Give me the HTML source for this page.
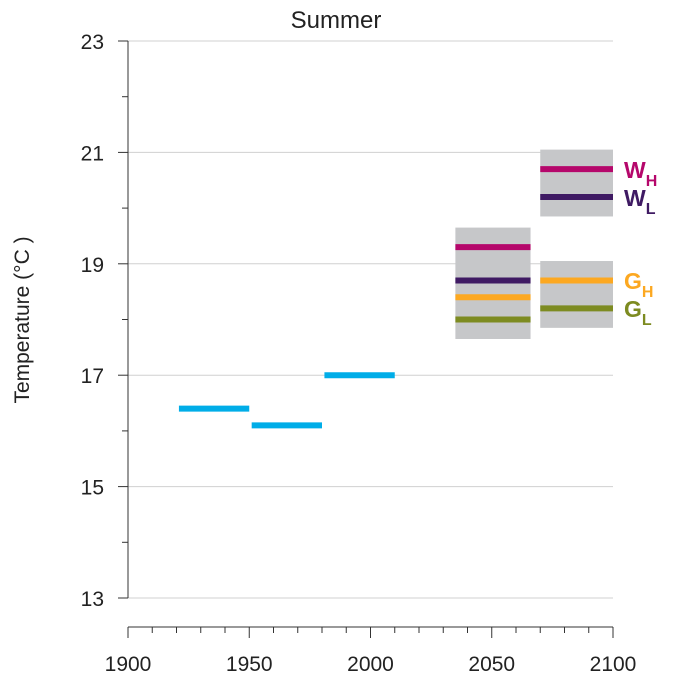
<!DOCTYPE html>
<html><head><meta charset="utf-8"><style>
body{margin:0;background:#fff;font-family:"Liberation Sans",sans-serif}
</style></head><body>
<svg width="680" height="686" id="chart" font-family="Liberation Sans, sans-serif">
<text x="336" y="28" font-size="24" text-anchor="middle" fill="#222">Summer</text>
<text transform="translate(29,320) rotate(-90)" font-size="21" text-anchor="middle" fill="#222">Temperature (°C )</text>
<g id="grid"></g><g id="marks"></g><g id="axes"></g>
<g font-size="23" font-weight="bold">
<text x="624" y="178" fill="#b5076b">W<tspan font-size="16" dy="8">H</tspan></text>
<text x="624" y="206" fill="#3f1a63">W<tspan font-size="16" dy="8">L</tspan></text>
<text x="624" y="289" fill="#fca821">G<tspan font-size="16" dy="8">H</tspan></text>
<text x="624" y="317" fill="#7d8b21">G<tspan font-size="16" dy="8">L</tspan></text>
</g>
</svg>
<script>
const obsStart=[1921,1951,1981];
const obsEnd=[1950,1980,2010];
const obsVal=[16.4,16.1,17.0];
const boxStart=[2035,2070,2070];
const boxEnd=[2066,2100,2100];
const boxLow=[17.65,19.85,17.85];
const boxHigh=[19.65,21.05,19.05];
const scenStart=[2035,2070];
const scenEnd=[2066,2100];
const WH=[19.3,20.7];
const WL=[18.7,20.2];
const GH=[18.4,18.7];
const GL=[18.0,18.2];
const yTicks=[13,15,17,19,21,23];
const xTicks=[1900,1950,2000,2050,2100];
const NS="http://www.w3.org/2000/svg";
const X=v=>128+(v-1900)*(613-128)/200;
const Y=v=>598-(v-13)*(598-41)/10;
function mk(p,t,a){const e=document.createElementNS(NS,t);for(const k in a)e.setAttribute(k,a[k]);p.appendChild(e);return e;}
const grid=document.getElementById('grid'),marks=document.getElementById('marks'),axes=document.getElementById('axes');
yTicks.forEach(v=>{
 const l=mk(grid,'line',{x1:128,x2:613,y1:Y(v),y2:Y(v),stroke:'#d0d0d0','stroke-width':1});
 
 
 const t=mk(axes,'text',{x:104,y:Y(v)+8,'font-size':21,'text-anchor':'end',fill:'#222'});t.textContent=v;
 
 
});
for(let v=13;v<=23;v++){mk(axes,'line',{x1:v%2?118:122,x2:128,y1:Y(v),y2:Y(v),stroke:'#333'});}
const ya=mk(axes,'line',{x1:128,x2:128,y1:Y(23),y2:Y(13),stroke:'#333'});


const xa=mk(axes,'line',{x1:128,x2:613,y1:627,y2:627,stroke:'#333'});


for(let v=1900;v<=2100;v+=10){mk(axes,'line',{x1:X(v),x2:X(v),y1:627,y2:v%50?633:638,stroke:'#333'});}
xTicks.forEach(v=>{const t=mk(axes,'text',{x:X(v),y:671,'font-size':21,'text-anchor':'middle',fill:'#222'});t.textContent=v;
 
 });
boxStart.forEach((s,i)=>{const r=mk(marks,'rect',{x:X(s),y:Y(boxHigh[i]),width:X(boxEnd[i])-X(s),height:Y(boxLow[i])-Y(boxHigh[i]),fill:'#c6c7c9'});
 
 });
obsStart.forEach((s,i)=>{const l=mk(marks,'line',{x1:X(s),x2:X(obsEnd[i]),y1:Y(obsVal[i]),y2:Y(obsVal[i]),stroke:'#00ade8','stroke-width':6});
 
 });
const series=[['wh',WH,'#b5076b'],['wl',WL,'#3f1a63'],['gh',GH,'#fca821'],['gl',GL,'#7d8b21']];
series.forEach(([n,arr,c])=>arr.forEach((v,i)=>{const l=mk(marks,'line',{x1:X(scenStart[i]),x2:X(scenEnd[i]),y1:Y(v),y2:Y(v),stroke:c,'stroke-width':6});
 
 }));
</script>
</body></html>
